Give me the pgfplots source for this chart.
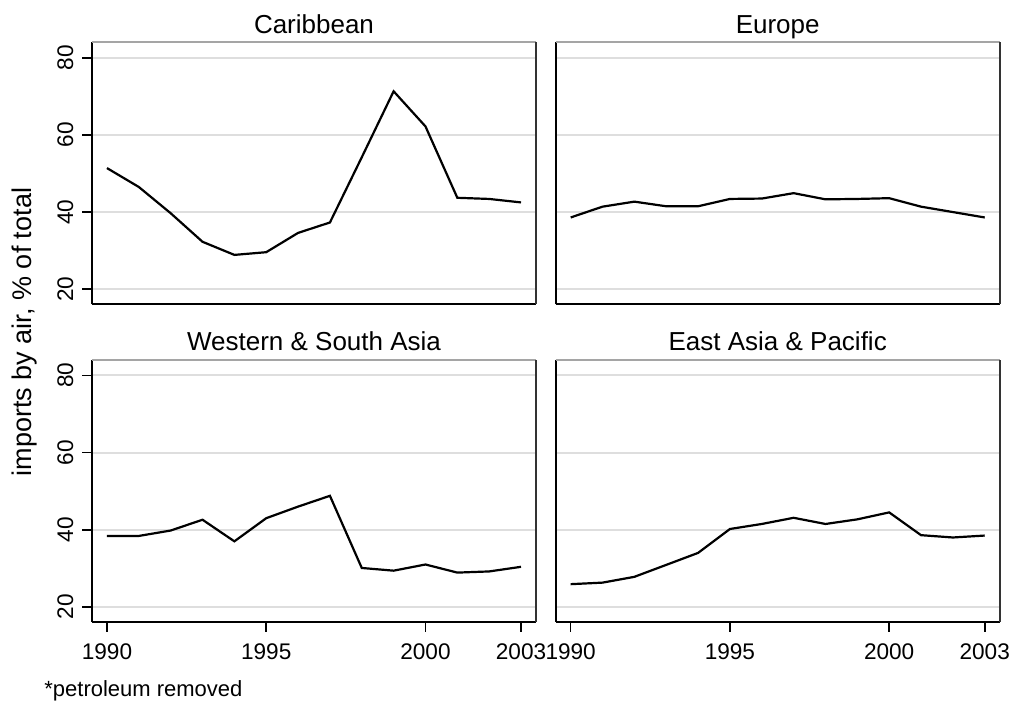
\documentclass[border=0pt]{standalone}
\usepackage{fontspec}
\setmainfont{Liberation Sans}
\usepackage{pgfplots}
\pgfplotsset{compat=1.18}
\definecolor{gridgray}{RGB}{222,222,222}
\definecolor{topgray}{RGB}{165,165,165}
\pgfplotsset{
  panel/.style={
    scale only axis, width=222pt, height=131pt,
    xmin=1989.53, xmax=2003.47, ymin=16.1, ymax=84,
    ytick={20,40,60,80},
    ymajorgrids, grid style={draw=gridgray, line width=1pt},
    axis x line*=bottom, axis y line*=left,
    axis line style={black, line width=1pt, -},
    tick align=outside, major tick length=5pt,
    tick style={black, line width=0.8pt},
    /pgf/number format/assume math mode=true,
    /pgf/number format/1000 sep={},
    ticklabel style={font=\fontsize{11.3}{13}\selectfont},
    xticklabel style={yshift=-2.5pt},
    yticklabel style={rotate=90, anchor=south, yshift=0.8pt},
    title style={font=\fontsize{13}{15}\selectfont, at={(0.5,1)}, anchor=base, yshift=-1.5pt},
    clip=false,
    cycle list={{black}},
    every axis plot post/.append style={black, line width=1.1pt, mark=none},
    after end axis/.code={
      \draw[topgray, line width=1pt] (rel axis cs:0,1) -- (rel axis cs:1,1);
      \draw[black!80, line width=1pt] (rel axis cs:1,0) -- (rel axis cs:1,1);
    },
  },
  toprow/.style={xtick=\empty},
  bottomrow/.style={xtick={1990,1995,2000,2003}, xticklabels={1990,1995,2000,2003}},
  rightcol/.style={yticklabels={}, ytick style={draw=none}},
}
\begin{document}
\begin{tikzpicture}
\path[use as bounding box] (0,0) rectangle (507pt,352.5pt);

% Caribbean
\begin{axis}[panel, toprow, at={(46pt,200.35pt)}, anchor=south west, title={Caribbean}]
\addplot coordinates {(1990,51.4) (1991,46.5) (1992,39.7) (1993,32.3) (1994,28.9) (1995,29.6) (1996,34.6) (1997,37.3) (1998,54.2) (1999,71.3) (2000,62.2) (2001,43.7) (2002,43.4) (2003,42.5)};
\end{axis}

% Europe
\begin{axis}[panel, toprow, rightcol, at={(277.85pt,200.35pt)}, anchor=south west, title={Europe}]
\addplot coordinates {(1990,38.6) (1991,41.4) (1992,42.7) (1993,41.5) (1994,41.5) (1995,43.4) (1996,43.5) (1997,44.9) (1998,43.3) (1999,43.4) (2000,43.6) (2001,41.4) (2002,40.0) (2003,38.6)};
\end{axis}

% Western & South Asia
\begin{axis}[panel, bottomrow, at={(46pt,41.5pt)}, anchor=south west, title={Western \& South Asia}]
\addplot coordinates {(1990,38.4) (1991,38.4) (1992,39.8) (1993,42.6) (1994,37.0) (1995,43.0) (1996,46.0) (1997,48.8) (1998,30.1) (1999,29.4) (2000,31.0) (2001,28.9) (2002,29.2) (2003,30.4)};
\end{axis}

% East Asia & Pacific
\begin{axis}[panel, bottomrow, rightcol, at={(277.85pt,41.5pt)}, anchor=south west, title={East Asia \& Pacific}]
\addplot coordinates {(1990,25.9) (1991,26.3) (1992,27.8) (1993,30.9) (1994,34.0) (1995,40.2) (1996,41.5) (1997,43.1) (1998,41.5) (1999,42.7) (2000,44.5) (2001,38.6) (2002,38.0) (2003,38.5)};
\end{axis}

\node[rotate=90, anchor=base, font=\fontsize{13.5}{16}\selectfont] at (16pt,186.5pt) {imports by air, \% of total};
\node[anchor=base west, font=\fontsize{11}{13}\selectfont, inner sep=0pt] at (22pt,4pt) {*petroleum removed};
\end{tikzpicture}
\end{document}
